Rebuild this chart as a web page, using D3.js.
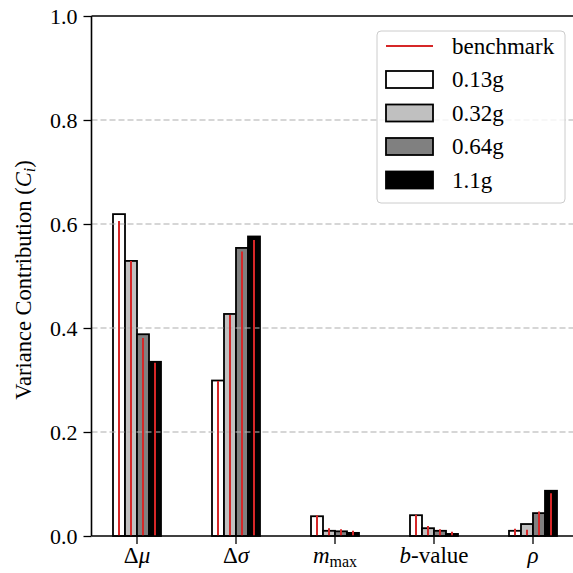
<!DOCTYPE html>
<html><head><meta charset="utf-8">
<script src="https://cdn.jsdelivr.net/npm/d3@7"></script>
<style>body{margin:0;background:#fff}svg{display:block}</style>
</head><body>
<script>
const categories = ["dmu", "dsigma", "mmax", "bvalue", "rho"];
const series = ["0.13g", "0.32g", "0.64g", "1.1g"];
const seriesFill = ["#ffffff", "#c0c0c0", "#808080", "#000000"];
const values = {
  "0.13g": [0.619, 0.299, 0.038, 0.040, 0.010],
  "0.32g": [0.529, 0.427, 0.010, 0.015, 0.023],
  "0.64g": [0.388, 0.554, 0.009, 0.010, 0.044],
  "1.1g":  [0.335, 0.576, 0.006, 0.004, 0.087]
};
const benchmark = {
  "0.13g": [0.606, 0.298, 0.040, 0.041, 0.014],
  "0.32g": [0.529, 0.425, 0.015, 0.019, 0.012],
  "0.64g": [0.381, 0.547, 0.013, 0.013, 0.047],
  "1.1g":  [0.333, 0.569, 0.010, 0.008, 0.082]
};
const yTicks = [0, 0.2, 0.4, 0.6, 0.8, 1.0];
const gridTicks = [0.2, 0.4, 0.6, 0.8];

(function () {
const FONT = "'Liberation Serif', 'Times New Roman', serif";
const W = 573, H = 573;
const svg = d3.select("body").append("svg").attr("width", W).attr("height", H).attr("font-family", FONT);
const mLeft = 91.5, mTop = 16, mBottom = 536;

const x = d3.scaleBand().domain(categories).range([87.5, 582.5]).paddingInner(0).paddingOuter(0);
const xs = d3.scaleBand().domain(series).range([-24, 24]);
const y = d3.scaleLinear().domain([0, 1]).range([mBottom, mTop]);

// bars
const g = svg.append("g");
series.forEach((s, si) => {
  g.selectAll(null).data(values[s]).enter().append("rect")
    .attr("x", (d, i) => x(categories[i]) + x.bandwidth() / 2 + xs(s))
    .attr("width", xs.bandwidth())
    .attr("y", d => y(d))
    .attr("height", d => y(0) - y(d))
    .attr("fill", seriesFill[si])
    .attr("stroke", "#000").attr("stroke-width", 1.8);
});

// grid (above bars, like matplotlib default)
svg.append("g").selectAll("line").data(gridTicks).enter().append("line")
  .attr("x1", mLeft).attr("x2", W).attr("y1", d => y(d)).attr("y2", d => y(d))
  .attr("stroke", "#b0b0b0").attr("stroke-opacity", 0.7).attr("stroke-width", 1.3)
  .attr("stroke-dasharray", "6,3");

// benchmark lines
series.forEach((s) => {
  svg.append("g").selectAll("line").data(benchmark[s]).enter().append("line")
    .attr("x1", (d, i) => x(categories[i]) + x.bandwidth() / 2 + xs(s) + xs.bandwidth() / 2)
    .attr("x2", (d, i) => x(categories[i]) + x.bandwidth() / 2 + xs(s) + xs.bandwidth() / 2)
    .attr("y1", y(0)).attr("y2", d => y(d))
    .attr("stroke", "#d62728").attr("stroke-width", 2);
});

// axes
const yAxis = svg.append("g").attr("transform", `translate(${mLeft},0)`)
  .call(d3.axisLeft(y).tickValues(yTicks).tickFormat(d3.format(".1f")).tickSize(8).tickPadding(6));
yAxis.attr("font-family", FONT).attr("font-size", 22);
yAxis.select(".domain").remove();
yAxis.selectAll(".tick line").attr("stroke", "#000").attr("stroke-width", 1.3);
yAxis.selectAll("text").attr("fill", "#000").attr("font-family", FONT);

const xAxis = svg.append("g").attr("transform", `translate(0,${mBottom})`)
  .call(d3.axisBottom(x).tickSize(8).tickPadding(6).tickFormat(""));
xAxis.select(".domain").remove();
xAxis.selectAll(".tick line").attr("stroke", "#000").attr("stroke-width", 1.3);

// spines
svg.append("line").attr("x1", mLeft).attr("x2", mLeft).attr("y1", mTop).attr("y2", mBottom).attr("stroke", "#000").attr("stroke-width", 1.6);
svg.append("line").attr("x1", mLeft).attr("x2", W).attr("y1", mTop).attr("y2", mTop).attr("stroke", "#000").attr("stroke-width", 1.6);
svg.append("line").attr("x1", mLeft).attr("x2", W).attr("y1", mBottom).attr("y2", mBottom).attr("stroke", "#000").attr("stroke-width", 1.6);

// x tick labels with italic parts
const labelParts = {
  dmu: [["Δ", "normal"], ["μ", "italic"]],
  dsigma: [["Δ", "normal"], ["σ", "italic"]],
  mmax: [["m", "italic"], ["max", "normal", "sub"]],
  bvalue: [["b", "italic"], ["-value", "normal"]],
  rho: [["ρ", "italic"]]
};
categories.forEach(c => {
  const t = svg.append("text").attr("x", x(c) + x.bandwidth() / 2).attr("y", 563)
    .attr("text-anchor", "middle").attr("font-size", 23).attr("fill", "#000").attr("font-family", FONT);
  labelParts[c].forEach(p => {
    const ts = t.append("tspan").text(p[0]).attr("font-style", p[1]);
    if (p[2] === "sub") ts.attr("font-size", 16).attr("dy", 4);
  });
});

// y label
const yl = svg.append("text").attr("transform", `translate(31,${(mTop + mBottom) / 2 + 4}) rotate(-90)`)
  .attr("text-anchor", "middle").attr("font-size", 22.5).attr("fill", "#000").attr("font-family", FONT);
yl.append("tspan").text("Variance Contribution (");
yl.append("tspan").text("C").attr("font-style", "italic");
yl.append("tspan").text("i").attr("font-style", "italic").attr("font-size", 16).attr("dy", 4);
yl.append("tspan").text(")").attr("dy", -4);

// legend
const lg = svg.append("g").attr("font-family", FONT);
lg.append("rect").attr("x", 377).attr("y", 31).attr("width", 188).attr("height", 172).attr("rx", 4)
  .attr("fill", "#fff").attr("fill-opacity", 0.8).attr("stroke", "#cccccc").attr("stroke-width", 1);
const rowY = d3.scaleLinear().domain([0, 4]).range([46, 180]);
lg.append("line").attr("x1", 386).attr("x2", 433).attr("y1", rowY(0)).attr("y2", rowY(0))
  .attr("stroke", "#d62728").attr("stroke-width", 2);
lg.append("text").attr("x", 452).attr("y", rowY(0) + 7.5).attr("font-size", 23).attr("font-family", FONT).text("benchmark");
series.forEach((s, i) => {
  lg.append("rect").attr("x", 386).attr("y", rowY(i + 1) - 8.5).attr("width", 47).attr("height", 17)
    .attr("fill", seriesFill[i]).attr("stroke", "#000").attr("stroke-width", 1.8);
  lg.append("text").attr("x", 452).attr("y", rowY(i + 1) + 7.5).attr("font-size", 23).attr("font-family", FONT).text(s);
});
})();
</script>
</body></html>
